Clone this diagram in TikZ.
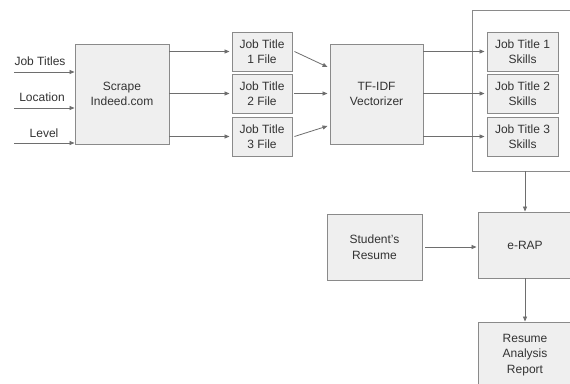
\documentclass[tikz,border=0pt]{standalone}
\usepackage{fontspec}
\setmainfont{Liberation Sans}
\usetikzlibrary{arrows.meta}
\definecolor{boxfill}{HTML}{EFEFEF}
\definecolor{boxline}{HTML}{8A8A8A}
\definecolor{arrowc}{HTML}{6E6E6E}
\definecolor{txt}{HTML}{333333}
\begin{document}
\begin{tikzpicture}[x=1pt,y=-1pt,
  box/.style={draw=boxline,fill=boxfill,line width=0.9pt,inner sep=0pt,align=center,
    text=txt,font=\fontsize{12}{15.5}\selectfont},
  arr/.style={draw=arrowc,line width=0.8pt,-{Triangle[length=5pt,width=4pt]}},
  lbl/.style={text=txt,font=\fontsize{12}{15.5}\selectfont,inner sep=0pt}]
\useasboundingbox (0,0) rectangle (570,383);
\clip (0,0) rectangle (570,383);
\fill[white] (0,0) rectangle (570,383);
% input labels
\node[lbl] (ljt) at (40,61) {Job Titles};
\node[lbl] (lloc) at (42,97) {Location};
\node[lbl] (llev) at (44,133) {Level};
\coordinate (s1) at (14,72);
\coordinate (s2) at (14,108);
\coordinate (s3) at (14,143);
% main boxes
\node[box,minimum width=94pt,minimum height=100pt] (scrape) at (122,94) {Scrape\\Indeed.com};
\node[box,minimum width=60pt,minimum height=39pt] (f1) at (262,51.5) {Job Title\\1 File};
\node[box,minimum width=60pt,minimum height=39pt] (f2) at (262,93.5) {Job Title\\2 File};
\node[box,minimum width=60pt,minimum height=39pt] (f3) at (262,136.5) {Job Title\\3 File};
\node[box,minimum width=93pt,minimum height=100pt] (tfidf) at (376.5,94) {TF-IDF\\Vectorizer};
\node[draw=boxline,line width=0.9pt,fill=white,minimum width=128pt,minimum height=161pt,inner sep=0pt] (group) at (536,90.5) {};
\node[box,minimum width=71pt,minimum height=39pt] (k1) at (522.5,51.5) {Job Title 1\\Skills};
\node[box,minimum width=71pt,minimum height=39pt] (k2) at (522.5,93.5) {Job Title 2\\Skills};
\node[box,minimum width=71pt,minimum height=39pt] (k3) at (522.5,136.5) {Job Title 3\\Skills};
\node[box,minimum width=95pt,minimum height=66pt] (student) at (374.5,247) {Student's\\Resume};
\node[box,minimum width=94pt,minimum height=66pt] (erap) at (525,245) {e-RAP};
\node[box,minimum width=94pt,minimum height=66pt] (report) at (525,355) {Resume\\Analysis\\Report};
% arrows
\draw[arr] (s1) -- (s1 -| scrape.west);
\draw[arr] (s2) -- (s2 -| scrape.west);
\draw[arr] (s3) -- (s3 -| scrape.west);
\draw[arr] (scrape.east |- f1) -- ([xshift=-2pt]f1.west);
\draw[arr] (scrape.east |- f2) -- ([xshift=-2pt]f2.west);
\draw[arr] (scrape.east |- f3) -- ([xshift=-2pt]f3.west);
\draw[arr] ([xshift=2pt]f1.east) -- ([yshift=27pt,xshift=-2pt]tfidf.west);
\draw[arr] ([xshift=2pt]f2.east) -- ([xshift=-2pt]tfidf.west |- f2);
\draw[arr] ([xshift=2pt]f3.east) -- ([yshift=-32pt,xshift=-2pt]tfidf.west);
\draw[arr] (tfidf.east |- k1) -- ([xshift=-2pt]k1.west);
\draw[arr] (tfidf.east |- k2) -- ([xshift=-2pt]k2.west);
\draw[arr] (tfidf.east |- k3) -- ([xshift=-2pt]k3.west);
\draw[arr] (erap.north |- group.south) -- (erap.north);
\draw[arr] ([xshift=3pt]student.east) -- ([xshift=-1pt]erap.west |- student);
\draw[arr] (erap.south) -- (report.north);
\end{tikzpicture}
\end{document}
